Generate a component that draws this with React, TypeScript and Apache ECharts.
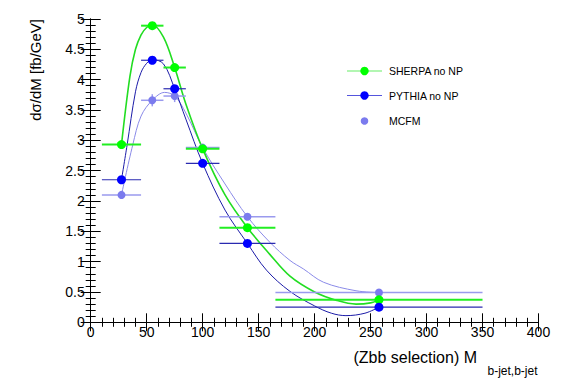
import React, { useEffect, useRef } from "react";
import * as echarts from "echarts";

// Bin centres and edges (M_bb, GeV)
const binCenters = [27.5, 55, 75, 100, 140, 257.5];
const binLow = [10, 45, 65, 85, 115, 165];
const binHigh = [45, 65, 85, 115, 165, 350];

// Measured values (fb/GeV)
const sherpaValues = [2.93, 4.89, 4.2, 2.86, 1.56, 0.37];
const sherpaErr = [0.02, 0.02, 0.02, 0.02, 0.02, 0.01];
const pythiaValues = [2.35, 4.32, 3.85, 2.62, 1.3, 0.25];
const pythiaErr = [0.02, 0.02, 0.02, 0.02, 0.02, 0.01];
const mcfmValues = [2.1, 3.66, 3.73, 2.88, 1.74, 0.49];
const mcfmErr = [0.03, 0.1, 0.1, 0.05, 0.02, 0.01];

// Smooth fit curves
const sherpaCurveX = [27.5, 35, 40, 45, 50, 55, 65, 75, 85, 100, 120, 140, 160, 178, 200, 220, 237, 250, 257.5];
const sherpaCurveY = [2.93, 4.05, 4.5, 4.74, 4.86, 4.9, 4.7, 4.2, 3.6, 2.86, 2.1, 1.56, 1.12, 0.76, 0.5, 0.36, 0.3, 0.32, 0.37];
const pythiaCurveX = [27.5, 32.5, 40, 45, 50, 55, 65, 75, 85, 100, 120, 140, 157, 178, 200, 215, 228, 245, 257.5];
const pythiaCurveY = [2.35, 2.92, 3.8, 4.12, 4.27, 4.33, 4.26, 3.85, 3.35, 2.62, 1.85, 1.3, 0.86, 0.51, 0.27, 0.15, 0.11, 0.15, 0.25];
const mcfmCurveX = [27.5, 37.5, 45, 55, 66, 75, 85, 100, 120, 140, 160, 178, 190, 208, 237, 257.5];
const mcfmCurveY = [2.1, 2.92, 3.4, 3.66, 3.79, 3.73, 3.45, 2.88, 2.28, 1.74, 1.32, 1.02, 0.88, 0.66, 0.52, 0.49];

const legendLabels = ["SHERPA no NP", "PYTHIA no NP", "MCFM"];

const FONT = "'Liberation Sans', Arial, Helvetica, sans-serif";

function pairs(xs: number[], ys: number[]) {
  return xs.map((x, i) => [x, ys[i]]);
}

function errData(vals: number[], errs: number[]) {
  return binCenters.map((c, i) => [c, vals[i], binLow[i], binHigh[i], vals[i] - errs[i], vals[i] + errs[i]]);
}

function errSeries(vals: number[], errs: number[], color: string, width: number, z: number) {
  return {
    type: "custom",
    z,
    silent: true,
    data: errData(vals, errs),
    encode: { x: [0, 2, 3], y: [1, 4, 5] },
    renderItem: (params: any, api: any) => {
      const c = api.value(0);
      const v = api.value(1);
      const lo = api.value(2);
      const hi = api.value(3);
      const ylo = api.value(4);
      const yhi = api.value(5);
      const p1 = api.coord([lo, v]);
      const p2 = api.coord([hi, v]);
      const p3 = api.coord([c, ylo]);
      const p4 = api.coord([c, yhi]);
      return {
        type: "group",
        children: [
          { type: "line", shape: { x1: p1[0], y1: p1[1], x2: p2[0], y2: p2[1] }, style: { stroke: color, lineWidth: width } },
          { type: "line", shape: { x1: p3[0], y1: p3[1], x2: p4[0], y2: p4[1] }, style: { stroke: color, lineWidth: width } },
        ],
      };
    },
  };
}

function curveSeries(xs: number[], ys: number[], color: string, width: number, z: number) {
  return {
    type: "line",
    z,
    silent: true,
    smooth: 0.35,
    showSymbol: false,
    symbol: "none",
    data: pairs(xs, ys),
    lineStyle: { color, width },
  };
}

function pointSeries(vals: number[], color: string, size: number, z: number) {
  return {
    type: "scatter",
    z,
    silent: true,
    symbol: "circle",
    symbolSize: size,
    data: pairs(binCenters, vals),
    itemStyle: { color, opacity: 1 },
  };
}

const GREEN = "#00ff00";
const BLUE = "#0000ff";
const MCFM = "#7b7bee";

export default function App() {
  const ref = useRef<HTMLDivElement>(null);
  useEffect(() => {
    if (!ref.current) return;
    const chart = echarts.init(ref.current, null, { renderer: "svg" });
    const tickCommon = {
      axisLine: { show: true, lineStyle: { color: "#000", width: 1 } },
      splitLine: { show: false },
    };
    const legendY = [71, 95.5, 121];
    const legendColors = [GREEN, BLUE, MCFM];
    const legendLineColors = ["#66ee66", "#5555dd", null];
    const graphic: any[] = [];
    legendLabels.forEach((lab, i) => {
      const lc = legendLineColors[i];
      if (lc) {
        graphic.push({
          type: "line",
          shape: { x1: 347, y1: legendY[i], x2: 382, y2: legendY[i] },
          style: { stroke: lc, lineWidth: 1.2 },
        });
      }
      graphic.push({
        type: "circle",
        shape: { cx: 364.5, cy: legendY[i], r: i === 2 ? 3.8 : 4.2 },
        style: { fill: legendColors[i] },
      });
      graphic.push({
        type: "text",
        x: 389,
        y: legendY[i],
        style: { text: lab, font: `10.5px ${FONT}`, fill: "#000", verticalAlign: "middle", align: "left" },
      });
    });
    graphic.push({
      type: "text",
      x: 477,
      y: 357,
      style: { text: "(Zbb selection) M", font: `16px ${FONT}`, fill: "#000", align: "right", verticalAlign: "middle" },
    });
    graphic.push({
      type: "text",
      x: 487.5,
      y: 371,
      style: { text: "b-jet,b-jet", font: `12px ${FONT}`, fill: "#000", align: "left", verticalAlign: "middle" },
    });
    graphic.push({
      type: "text",
      x: 35,
      y: 19,
      rotation: Math.PI / 2,
      style: { text: "dσ/dM [fb/GeV]", font: `15px ${FONT}`, fill: "#000", align: "right", verticalAlign: "middle" },
    });

    chart.setOption({
      animation: false,
      backgroundColor: "#fff",
      grid: { left: 90.7, right: 28.5, top: 19, bottom: 61.7, containLabel: false },
      xAxis: [
        {
          type: "value",
          min: 0,
          max: 400,
          interval: 50,
          position: "bottom",
          ...tickCommon,
          axisTick: { show: true, inside: true, length: 9, lineStyle: { color: "#000" } },
          minorTick: { show: true, splitNumber: 5, length: 4.5, lineStyle: { color: "#000" } },
          axisLabel: { show: true, fontSize: 14, color: "#000", fontFamily: FONT, margin: 3 },
        },
        {
          type: "value",
          min: 0,
          max: 400,
          interval: 50,
          position: "top",
          ...tickCommon,
          axisTick: { show: true, inside: true, length: 9, lineStyle: { color: "#000" } },
          minorTick: { show: true, splitNumber: 5, length: 4.5, lineStyle: { color: "#000" } },
          axisLabel: { show: false },
        },
      ],
      yAxis: [
        {
          type: "value",
          min: 0,
          max: 5,
          interval: 0.5,
          position: "left",
          ...tickCommon,
          axisTick: { show: true, inside: true, length: 10, lineStyle: { color: "#000" } },
          minorTick: { show: true, splitNumber: 5, length: 5, lineStyle: { color: "#000" } },
          axisLabel: { show: true, fontSize: 14, color: "#000", fontFamily: FONT, margin: 6 },
        },
        {
          type: "value",
          min: 0,
          max: 5,
          interval: 0.5,
          position: "right",
          ...tickCommon,
          axisTick: { show: true, inside: true, length: 10, lineStyle: { color: "#000" } },
          minorTick: { show: true, splitNumber: 5, length: 5, lineStyle: { color: "#000" } },
          axisLabel: { show: false },
        },
      ],
      series: [
        curveSeries(mcfmCurveX, mcfmCurveY, "#8a8ae8", 1, 2),
        curveSeries(sherpaCurveX, sherpaCurveY, "#22dd22", 1.6, 3),
        curveSeries(pythiaCurveX, pythiaCurveY, "#1c1ca8", 1, 4),
        errSeries(mcfmValues, mcfmErr, "#9a9aee", 1.5, 5),
        errSeries(sherpaValues, sherpaErr, "#22ee22", 2, 6),
        errSeries(pythiaValues, pythiaErr, "#2a2ab0", 1.2, 7),
        pointSeries(mcfmValues, MCFM, 8, 8),
        pointSeries(sherpaValues, GREEN, 9, 9),
        pointSeries(pythiaValues, BLUE, 9, 10),
      ],
      graphic,
    });
    return () => chart.dispose();
  }, []);
  return (
    <div
      ref={ref}
      style={{ position: "fixed", left: 0, top: 0, width: 567, height: 384, background: "#fff" }}
    />
  );
}
